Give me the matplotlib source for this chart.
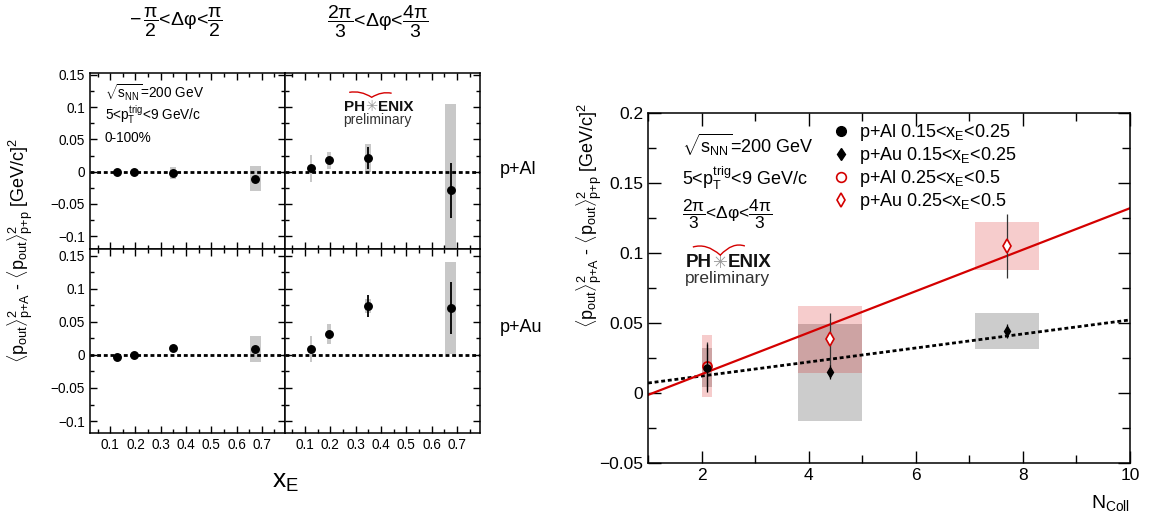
import numpy as np
import matplotlib
matplotlib.use('Agg')
import matplotlib.pyplot as plt
from matplotlib.patches import Rectangle, PathPatch
from matplotlib.path import Path
from matplotlib.lines import Line2D
from matplotlib.ticker import MultipleLocator

plt.rcParams['font.family'] = ['Liberation Sans', 'DejaVu Sans']
plt.rcParams['mathtext.fontset'] = 'custom'
plt.rcParams['mathtext.rm'] = 'Liberation Sans'
plt.rcParams['mathtext.it'] = 'Liberation Sans'
plt.rcParams['mathtext.bf'] = 'Liberation Sans:bold'
plt.rcParams['mathtext.sf'] = 'Liberation Sans'
plt.rcParams['axes.unicode_minus'] = True

# ---------------- data: left panels (x_E dependence) ----------------
xE = [0.125, 0.195, 0.35, 0.675]

pAl_near_val = [-0.001, -0.0005, -0.0025, -0.0107]
pAl_near_stat = [0.002, 0.002, 0.003, 0.003]
pAl_near_sys = [0.002, 0.002, 0.009, 0.019]

pAl_away_val = [0.005, 0.0173, 0.021, -0.029]
pAl_away_stat = [0.002, 0.003, 0.017, 0.043]
pAl_away_sys = [0.0205, 0.0135, 0.022, 0.134]

pAu_near_val = [-0.0036, 0.0, 0.0102, 0.0091]
pAu_near_stat = [0.002, 0.002, 0.002, 0.003]
pAu_near_sys = [0.002, 0.002, 0.002, 0.0195]

pAu_away_val = [0.0086, 0.0315, 0.074, 0.071]
pAu_away_stat = [0.002, 0.003, 0.0165, 0.039]
pAu_away_sys = [0.02, 0.0145, 0.01, 0.07]

# ---------------- data: right panel (N_coll dependence) ----------------
ncoll_pAl = [2.1]
ncoll_pAu = [4.4, 7.7]

pAl_low_val = [0.018]
pAl_low_stat = [0.017]
pAl_low_sys = [0.014]

pAu_low_val = [0.0148, 0.0443]
pAu_low_stat = [0.005, 0.005]
pAu_low_sys = [0.0347, 0.013]

pAl_high_val = [0.0195]
pAl_high_stat = [0.017]
pAl_high_sys = [0.022]

pAu_high_val = [0.0383, 0.105]
pAu_high_stat = [0.019, 0.023]
pAu_high_sys = [0.0238, 0.017]

# linear fits (intercept, slope)
fit_low = [0.0021, 0.00501]
fit_high = [-0.0162, 0.01482]

legend_labels = ['p+Al 0.15<$x_{E}$<0.25', 'p+Au 0.15<$x_{E}$<0.25',
                 'p+Al 0.25<$x_{E}$<0.5', 'p+Au 0.25<$x_{E}$<0.5']

# ---------------- styles ----------------
sys_halfwidth_left = [0.005, 0.0065, 0.012, 0.021]
box_hw_pAl = 0.1
box_hw_pAu = 0.6
RED = '#d40000'
DOT = (0, (1.4, 1.0))
DPHI = '\u0394\u03c6'

W, H = 1152, 521
fig = plt.figure(figsize=(W / 100, H / 100), dpi=100)


def axrect(x0, y0, x1, y1):
    return [x0 / W, 1 - y1 / H, (x1 - x0) / W, (y1 - y0) / H]


ax_tl = fig.add_axes(axrect(90, 73, 284.5, 249))
ax_tr = fig.add_axes(axrect(284.5, 73, 480, 249))
ax_bl = fig.add_axes(axrect(90, 249, 284.5, 433))
ax_br = fig.add_axes(axrect(284.5, 249, 480, 433))
ax_r = fig.add_axes(axrect(648, 113, 1130, 463))


def left_panel(ax, val, stat, sys, ylim, xlabels, ylabels):
    for x, v, sy, hw in zip(xE, val, sys, sys_halfwidth_left):
        ax.add_patch(Rectangle((x - hw, v - sy), 2 * hw, 2 * sy, facecolor='#c8c8c8',
                               edgecolor='none', zorder=1))
    ax.axhline(0, color='black', ls=DOT, lw=2.0, zorder=2)
    ax.errorbar(xE, val, yerr=stat, fmt='o', color='black', ms=5.4, elinewidth=1.3,
                capsize=0, zorder=3)
    ax.set_xlim(0.02, 0.79)
    ax.set_ylim(*ylim)
    ax.xaxis.set_major_locator(MultipleLocator(0.1))
    ax.xaxis.set_minor_locator(MultipleLocator(0.05))
    ax.yaxis.set_major_locator(MultipleLocator(0.05))
    ax.yaxis.set_minor_locator(MultipleLocator(0.025))
    ax.tick_params(which='both', direction='in', top=True, right=True, labelsize=9.8,
                   width=1.0)
    ax.tick_params(which='major', length=5)
    ax.tick_params(which='minor', length=3)
    if not xlabels:
        ax.tick_params(labelbottom=False)
    if not ylabels:
        ax.tick_params(labelleft=False)
    else:
        ax.set_yticks([-0.1, -0.05, 0, 0.05, 0.1, 0.15])
        ax.set_yticklabels(['\u22120.1', '\u22120.05', '0', '0.05', '0.1', '0.15'])
    if xlabels:
        ax.set_xticks([0.1, 0.2, 0.3, 0.4, 0.5, 0.6, 0.7])
        ax.set_xticklabels(['0.1', '0.2', '0.3', '0.4', '0.5', '0.6', '0.7'])
    for s in ax.spines.values():
        s.set_linewidth(1.1)


left_panel(ax_tl, pAl_near_val, pAl_near_stat, pAl_near_sys, (-0.12, 0.153), False, True)
left_panel(ax_tr, pAl_away_val, pAl_away_stat, pAl_away_sys, (-0.12, 0.153), False, False)
left_panel(ax_bl, pAu_near_val, pAu_near_stat, pAu_near_sys, (-0.118, 0.16), True, True)
left_panel(ax_br, pAu_away_val, pAu_away_stat, pAu_away_sys, (-0.118, 0.16), True, False)


def phenix(ax, xstar, xc, ytop, ybot, fs, fsp, arc):
    ax.text(xstar, ytop, '\u2733', transform=ax.transAxes, ha='center', va='center',
            color='#9a9a9a', fontsize=fs * 0.95, family=['DejaVu Sans'], zorder=5)
    ax.annotate('PH', xy=(xstar, ytop), xycoords='axes fraction', xytext=(-fs * 0.42, 0),
                textcoords='offset points', ha='right', va='center', fontsize=fs,
                fontweight='bold', color='#111111')
    ax.annotate('ENIX', xy=(xstar, ytop), xycoords='axes fraction', xytext=(fs * 0.42, 0),
                textcoords='offset points', ha='left', va='center', fontsize=fs,
                fontweight='bold', color='#111111')
    ax.text(xc, ybot, 'preliminary', transform=ax.transAxes, ha='center', va='center',
            fontsize=fsp, color='#333333')
    (x0, y0), (xm, ym), (x1, y1) = arc
    verts = [(x0, y0), ((x0 + xm) / 2, y0 + 0.012), (xm, ym),
             ((xm + x1) / 2, y1 + 0.012), (x1, y1)]
    codes = [Path.MOVETO, Path.CURVE3, Path.CURVE3, Path.CURVE3, Path.CURVE3]
    ax.add_patch(PathPatch(Path(verts, codes), transform=ax.transAxes, facecolor='none',
                           edgecolor=RED, lw=1.0, zorder=5))


phenix(ax_tr, 0.446, 0.473, 0.808, 0.733, 11, 10,
       ((0.331, 0.890), (0.446, 0.862), (0.548, 0.885)))

ax_tl.text(0.077, 0.886, r'$\sqrt{s_{NN}}$=200 GeV', transform=ax_tl.transAxes,
           ha='left', va='center', fontsize=9.8)
ax_tl.text(0.077, 0.761, r'5<$p_{T}^{trig}$<9 GeV/c', transform=ax_tl.transAxes,
           ha='left', va='center', fontsize=9.8)
ax_tl.text(0.077, 0.629, '0-100%', transform=ax_tl.transAxes,
           ha='left', va='center', fontsize=9.8)

fig.text(176 / W, 1 - 22 / H, r'$-\,\dfrac{\pi}{2}$<' + DPHI + r'<$\dfrac{\pi}{2}$',
         ha='center', va='center', fontsize=14)
fig.text(378 / W, 1 - 22 / H, r'$\dfrac{2\pi}{3}$<' + DPHI + r'<$\dfrac{4\pi}{3}$',
         ha='center', va='center', fontsize=14)
fig.text(500 / W, 1 - 170 / H, 'p+Al', ha='left', va='center', fontsize=13)
fig.text(500 / W, 1 - 328 / H, 'p+Au', ha='left', va='center', fontsize=13)
fig.text(285 / W, 1 - 482 / H, r'x$_{E}$', ha='center', va='center', fontsize=19)

ylab = (r'$\langle p_{out}\rangle^{2}_{p{+}A}$ - $\langle p_{out}\rangle^{2}_{p{+}p}$'
        r' [GeV/c]$^{2}$')
fig.text(20 / W, 1 - 250 / H, ylab, rotation=90, ha='center', va='center', fontsize=13)

# ---------------- right panel ----------------
ax = ax_r
for n, v, s in zip(ncoll_pAl, pAl_low_val, pAl_low_sys):
    ax.add_patch(Rectangle((n - box_hw_pAl, v - s), 2 * box_hw_pAl, 2 * s,
                           facecolor='black', alpha=0.2, edgecolor='none', zorder=1))
for n, v, s in zip(ncoll_pAu, pAu_low_val, pAu_low_sys):
    ax.add_patch(Rectangle((n - box_hw_pAu, v - s), 2 * box_hw_pAu, 2 * s,
                           facecolor='black', alpha=0.2, edgecolor='none', zorder=1))
for n, v, s in zip(ncoll_pAl, pAl_high_val, pAl_high_sys):
    ax.add_patch(Rectangle((n - box_hw_pAl, v - s), 2 * box_hw_pAl, 2 * s,
                           facecolor=RED, alpha=0.2, edgecolor='none', zorder=1))
for n, v, s in zip(ncoll_pAu, pAu_high_val, pAu_high_sys):
    ax.add_patch(Rectangle((n - box_hw_pAu, v - s), 2 * box_hw_pAu, 2 * s,
                           facecolor=RED, alpha=0.2, edgecolor='none', zorder=1))

xfit = np.array([1.0, 10.0])
ax.plot(xfit, fit_low[0] + fit_low[1] * xfit, color='black', ls=DOT, lw=2.0, zorder=2)
ax.plot(xfit, fit_high[0] + fit_high[1] * xfit, color=RED, ls='-', lw=1.6, zorder=2)

ax.errorbar(ncoll_pAl, pAl_high_val, yerr=pAl_high_stat, fmt='o', mfc='none', mec=RED,
            mew=1.3, ms=6.5, ecolor='#333333', elinewidth=0.9, capsize=0, zorder=3)
ax.errorbar(ncoll_pAl, pAl_low_val, yerr=pAl_low_stat, fmt='o', color='black', ms=5,
            elinewidth=0.9, capsize=0, zorder=4)
ax.errorbar(ncoll_pAu, pAu_low_val, yerr=pAu_low_stat, fmt='d', color='black', ms=5.5,
            elinewidth=0.9, capsize=0, zorder=4)
ax.errorbar(ncoll_pAu, pAu_high_val, yerr=pAu_high_stat, fmt='d', mfc='white', mec=RED,
            mew=1.2, ms=7.5, ecolor='#333333', elinewidth=0.9, capsize=0, zorder=3)

ax.set_xlim(1, 10)
ax.set_ylim(-0.05, 0.2)
ax.xaxis.set_major_locator(MultipleLocator(2))
ax.xaxis.set_minor_locator(MultipleLocator(1))
ax.yaxis.set_major_locator(MultipleLocator(0.05))
ax.yaxis.set_minor_locator(MultipleLocator(0.025))
ax.set_yticks([-0.05, 0, 0.05, 0.1, 0.15, 0.2])
ax.set_yticklabels(['\u22120.05', '0', '0.05', '0.1', '0.15', '0.2'])
ax.set_xticks([2, 4, 6, 8, 10])
ax.set_xticklabels(['2', '4', '6', '8', '10'])
ax.tick_params(which='both', direction='in', top=True, right=True, labelsize=12.5, width=1.0)
ax.tick_params(which='major', length=9)
ax.tick_params(which='minor', length=5.5)
for s in ax.spines.values():
    s.set_linewidth(1.1)

handles = [Line2D([], [], ls='none', marker='o', color='black', ms=7),
           Line2D([], [], ls='none', marker='d', color='black', ms=6),
           Line2D([], [], ls='none', marker='o', mfc='none', mec=RED, mew=1.2, ms=7),
           Line2D([], [], ls='none', marker='d', mfc='none', mec=RED, mew=1.2, ms=7)]
ax.legend(handles, legend_labels, loc='upper left', bbox_to_anchor=(0.375, 0.985),
          frameon=False, fontsize=13, handlelength=1.0, handletextpad=0.45,
          labelspacing=0.12, borderpad=0.2, borderaxespad=0)

ax.text(0.0705, 0.909, r'$\sqrt{s_{NN}}$=200 GeV', transform=ax.transAxes, ha='left',
        va='center', fontsize=13)
ax.text(0.0705, 0.814, r'5<$p_{T}^{trig}$<9 GeV/c', transform=ax.transAxes, ha='left',
        va='center', fontsize=13)
ax.text(0.0705, 0.712, r'$\dfrac{2\pi}{3}$<' + DPHI + r'<$\dfrac{4\pi}{3}$',
        transform=ax.transAxes, ha='left', va='center', fontsize=12.5)

phenix(ax, 0.149, 0.164, 0.572, 0.526, 13.5, 12.5,
       ((0.093, 0.617), (0.150, 0.594), (0.201, 0.620)))

fig.text(589 / W, 1 - 215 / H, ylab, rotation=90, ha='center', va='center', fontsize=13)
fig.text(1130 / W, 1 - 503 / H, r'N$_{Coll}$', ha='right', va='center', fontsize=14)

fig.savefig('out.png', dpi=100)
